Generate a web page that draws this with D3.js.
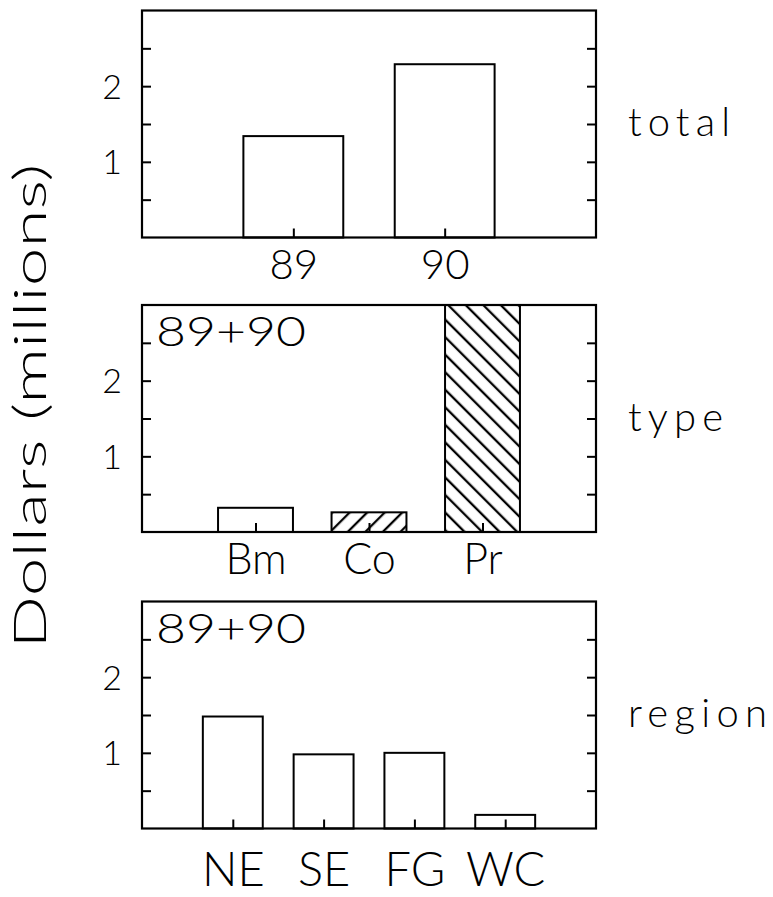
<!DOCTYPE html>
<html><head><meta charset="utf-8">
<script src="https://cdn.jsdelivr.net/npm/d3@7"></script>
<style>
body{margin:0;background:#fff;}
svg text{font-family:"Lato","Open Sans",sans-serif;font-weight:300;fill:#000;}
</style></head><body>
<svg id="chart" width="773" height="897"></svg>
<script>
// ---- data ----
const totalCategories = ["89", "90"];
const totalValues = [1.34, 2.29];
const typeCategories = ["Bm", "Co", "Pr"];
const typeValues = [0.32, 0.26, 3.0];   // Pr runs off the top of the panel
const typeFills = ["none", "fwd", "back"];
const regionCategories = ["NE", "SE", "FG", "WC"];
const regionValues = [1.48, 0.98, 1.00, 0.18];
const yTickLabels = [1, 2];
const yTickMarks = [0.5, 1, 1.5, 2, 2.5];
const panelNames = ["total", "type", "region"];
const panelNotes = ["", "89+90", "89+90"];
const yTitle = "Dollars (millions)";

// ---- layout / style ----
const svg = d3.select("#chart");
const left = 142, right = 596, panelH = 227;
const panelTops = [10.5, 305, 601.5];
const barHalf = 0.33;

const defs = svg.append("defs");
function hatch(id, angle) {
  const p = defs.append("pattern").attr("id", id)
    .attr("patternUnits", "userSpaceOnUse")
    .attr("width", 12.4).attr("height", 12.4)
    .attr("patternTransform", `rotate(${angle})`);
  p.append("rect").attr("width", 12.4).attr("height", 12.4).attr("fill", "#fff");
  p.append("line").attr("x1", 2).attr("x2", 2).attr("y1", 0).attr("y2", 12.4)
    .attr("stroke", "#000").attr("stroke-width", 2.3);
}
hatch("fwd", 45);
hatch("back", -45);

const panels = [
  {cats: totalCategories, vals: totalValues, fills: totalCategories.map(() => "none"), labelSize: 42, labelGap: 41},
  {cats: typeCategories, vals: typeValues, fills: typeFills, labelSize: 43, labelGap: 42},
  {cats: regionCategories, vals: regionValues, fills: regionCategories.map(() => "none"), labelSize: 47, labelGap: 57}
];
const labelWidths = {total: 102, type: 95, region: 139};

panels.forEach((p, k) => {
  const top = panelTops[k], bottom = top + panelH;
  const x = d3.scaleLinear().domain([0, p.cats.length + 1]).range([left, right]);
  const y = d3.scaleLinear().domain([0, 3]).range([bottom, top]).clamp(true);
  const g = svg.append("g");

  // bars
  g.selectAll("rect.bar").data(p.vals).join("rect")
    .attr("class", "bar")
    .attr("x", (d, i) => x(i + 1 - barHalf))
    .attr("width", (d, i) => x(i + 1 + barHalf) - x(i + 1 - barHalf))
    .attr("y", d => y(d))
    .attr("height", d => y(0) - y(d))
    .attr("fill", (d, i) => p.fills[i] === "none" ? "#fff" : `url(#${p.fills[i]})`)
    .attr("stroke", "#000").attr("stroke-width", 2);

  // frame
  g.append("rect").attr("x", left).attr("y", top)
    .attr("width", right - left).attr("height", panelH)
    .attr("fill", "none").attr("stroke", "#000").attr("stroke-width", 2.2);

  // inward ticks left / right
  const lAx = g.append("g").attr("transform", `translate(${left},0)`)
    .call(d3.axisLeft(y).tickValues(yTickMarks).tickSizeInner(-9).tickSizeOuter(0).tickFormat(""));
  const rAx = g.append("g").attr("transform", `translate(${right},0)`)
    .call(d3.axisRight(y).tickValues(yTickMarks).tickSizeInner(-9).tickSizeOuter(0).tickFormat(""));
  // y labels
  const lLab = g.append("g").attr("transform", `translate(${left},0)`)
    .call(d3.axisLeft(y).tickValues(yTickLabels).tickSize(0).tickPadding(20).tickFormat(d3.format("d")));
  // bottom ticks + category labels
  const bAx = g.append("g").attr("transform", `translate(0,${bottom})`)
    .call(d3.axisBottom(x).tickValues(p.cats.map((c, i) => i + 1)).tickSizeInner(-9).tickSizeOuter(0)
      .tickFormat(d => p.cats[d - 1]));

  [lAx, rAx, lLab, bAx].forEach(a => {
    a.select(".domain").remove();
    a.selectAll(".tick line").attr("stroke", "#000").attr("stroke-width", 2);
    a.attr("font-family", null).attr("font-size", null);
  });
  lLab.selectAll("text").attr("font-size", 34).attr("dy", null).attr("y", 12).attr("x", -20);
  bAx.selectAll("text").attr("font-size", p.labelSize).attr("dy", null).attr("y", p.labelGap);

  // note
  if (panelNotes[k]) {
    g.append("text").attr("x", left + 14).attr("y", top + 41)
      .attr("font-size", 41).attr("textLength", 150).attr("lengthAdjust", "spacingAndGlyphs")
      .text(panelNotes[k]);
  }
  // panel name on the right
  g.append("text").attr("x", 628).attr("y", top + panelH / 2 + 12)
    .attr("font-size", 40).attr("textLength", labelWidths[panelNames[k]]).attr("lengthAdjust", "spacing")
    .text(panelNames[k]);
});

// y title
svg.append("text")
  .attr("transform", `translate(46,406) rotate(-90)`)
  .attr("text-anchor", "middle")
  .attr("font-size", 45)
  .attr("textLength", 485).attr("lengthAdjust", "spacingAndGlyphs")
  .text(yTitle);
</script>
</body></html>
